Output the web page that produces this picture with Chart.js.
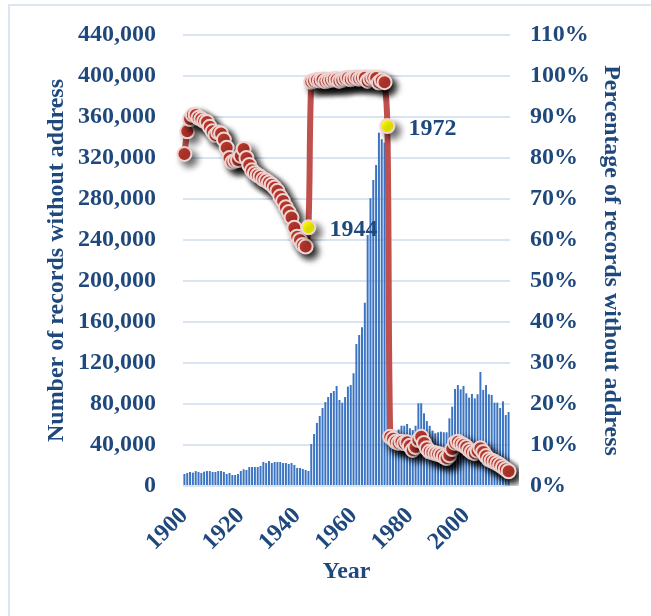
<!DOCTYPE html>
<html>
<head>
<meta charset="utf-8">
<script src="https://cdn.jsdelivr.net/npm/chart.js@4.4.1/dist/chart.umd.min.js"></script>
<style>
  body { margin: 0; background: #fff; }
  #frame { position: absolute; left: 8px; top: 4px; width: 660px; height: 630px; border: 2px solid #dce6f2; box-sizing: border-box; }
  #wrap { position: absolute; left: 0; top: 0; width: 651px; height: 616px; }
</style>
</head>
<body>
<div id="frame"></div>
<div id="wrap"><canvas id="chart" width="651" height="616"></canvas></div>
<script>
const firstYear = 1900;
const lastYear = 2015;
const years = [];
for (let y = firstYear; y <= lastYear; y++) years.push(y);

// number of records without address (thousands)
const recordsK = [
  11.7, 12.7, 13.7, 13.0, 14.6, 13.7, 12.7, 14.0, 14.6, 14.6,
  13.7, 13.7, 14.6, 14.6, 13.7, 11.7, 12.7, 10.7, 10.7, 11.7,
  14.6, 16.3, 15.6, 18.5, 18.5, 18.5, 18.5, 19.5, 23.4, 22.4,
  24.4, 22.4, 23.4, 23.4, 23.4, 22.4, 22.4, 21.5, 22.4, 20.5,
  17.6, 17.6, 16.6, 15.6, 14.6, 41.0, 50.7, 61.5, 68.3, 76.1,
  81.9, 86.8, 90.7, 92.7, 97.6, 83.9, 81.3, 86.8, 97.0, 98.5,
  110.0, 138.5, 147.3, 154.8, 178.8, 244.9, 280.7, 298.5, 313.2, 344.7,
  338.2, 335.0, 330.0, 47.0, 50.0, 53.0, 55.0, 58.8, 58.8, 60.5,
  56.3, 54.6, 58.8, 80.7, 80.7, 70.9, 63.4, 58.8, 54.0, 51.4,
  52.4, 53.0, 52.4, 52.4, 66.0, 77.4, 94.6, 98.5, 94.3, 97.6,
  90.4, 86.2, 89.8, 85.5, 89.5, 111.2, 93.7, 98.5, 89.5, 88.8,
  81.3, 81.3, 76.1, 82.6, 69.3, 72.2
];

// percentage of records without address
const percentNoAddr = [
  81, 86.5, 89.5, 90.5, 90.5, 89.8, 89.5, 89, 88.8, 87.6,
  86.5, 85.6, 86.2, 86, 84.5, 82.5, 80, 79, 79.3, 79.5,
  80.5, 82.2, 80, 78.3, 77, 76.3, 75.8, 75.4, 74.8, 74.5,
  74, 73.5, 72.8, 72, 70.6, 69.5, 68, 66.8, 65.5, 63,
  60.8, 60, 58.8, 58.4, 63.1,
  98.6, 98.8, 99, 98.9, 99.1, 98.7, 98.9, 99, 99.2, 99.1,
  98.8, 99, 99.3, 99.5, 99.2, 99.4, 99.6, 99.3, 99.5, 99.6,
  98.8, 99.3, 99.6, 99.5, 98.4, 98.9, 98.5,
  87.8,
  12.0, 11.5, 10.8, 10.5, 10.8, 10.4, 10.7, 9.8, 8.8, 9.5,
  11.2, 12.0, 10.5, 9.2, 8.4, 8.2, 8.0, 7.8, 7.6, 7.2,
  6.8, 7.5, 9.0, 10.5, 10.8, 10.3, 10.0, 9.5, 8.8, 8.3,
  8.0, 8.6, 9.2, 8.3, 7.3, 6.5, 6.2, 5.9, 5.5, 5.1,
  4.6, 4.1, 3.6
];

const highlightYears = [1944, 1972];
const leftTicksMax = 440000;
const rightTicksMax = 110;

const textBlue = '#1f497d';
const serif = "'Liberation Serif', 'Times New Roman', serif";

// shadow under the round markers
const markerShadow = {
  id: 'markerShadow',
  beforeDatasetDraw(chart, args) {
    if (chart.data.datasets[args.index].shadow) {
      const ctx = chart.ctx;
      ctx.save();
      ctx.shadowColor = 'rgba(0,0,0,0.6)';
      ctx.shadowBlur = 7;
      ctx.shadowOffsetX = 5;
      ctx.shadowOffsetY = 5;
    }
  },
  afterDatasetDraw(chart, args) {
    if (chart.data.datasets[args.index].shadow) chart.ctx.restore();
  }
};

// year labels next to the yellow points
const yearLabels = {
  id: 'yearLabels',
  afterDatasetsDraw(chart) {
    const meta = chart.getDatasetMeta(2);
    const ctx = chart.ctx;
    ctx.save();
    ctx.font = 'bold 24px ' + serif;
    ctx.fillStyle = textBlue;
    ctx.textAlign = 'left';
    ctx.textBaseline = 'middle';
    highlightYears.forEach(y => {
      const i = years.indexOf(y);
      const p = meta.data[i];
      ctx.fillText(String(y), p.x + 21, p.y + 3);
    });
    ctx.restore();
  }
};

// tick padding would otherwise push the plot top down
const noLabelPad = s => { s.paddingTop = 0; s.paddingBottom = 0; };

const ctx = document.getElementById('chart').getContext('2d');
new Chart(ctx, {
  data: {
    labels: years,
    datasets: [
      {
        type: 'bar',
        data: recordsK.map(v => v * 1000),
        yAxisID: 'y',
        backgroundColor: '#3a74c2',
        barPercentage: 0.7,
        categoryPercentage: 1,
        order: 3
      },
      {
        type: 'line',
        data: percentNoAddr,
        yAxisID: 'y1',
        borderColor: '#c0504d',
        borderWidth: 6,
        tension: 0.4,
        pointRadius: 0,
        order: 2
      },
      {
        type: 'line',
        data: percentNoAddr,
        yAxisID: 'y1',
        showLine: false,
        shadow: true,
        pointRadius: 7,
        pointBorderWidth: 2,
        pointBorderColor: '#f0d6d3',
        pointBackgroundColor: c => highlightYears.includes(years[c.dataIndex]) ? '#ffff00' : '#c0392f',
        order: 1
      }
    ]
  },
  options: {
    responsive: false,
    animation: false,
    layout: { padding: { top: 35, left: 0, right: 0, bottom: 0 } },
    plugins: { legend: { display: false }, tooltip: { enabled: false } },
    scales: {
      x: {
        type: 'category',
        offset: true,
        grid: { display: false },
        border: { display: false },
        afterFit: s => { s.height = 130; },
        ticks: {
          autoSkip: false,
          minRotation: 45,
          maxRotation: 45,
          padding: 8,
          color: textBlue,
          font: { family: serif, size: 24, weight: 'bold' },
          callback: (v, i) => years[i] % 20 === 0 ? String(years[i]) : ''
        },
        title: {
          display: true,
          text: 'Year',
          color: textBlue,
          font: { family: serif, size: 24, weight: 'bold' },
          padding: { top: 0, bottom: 30 }
        }
      },
      y: {
        position: 'left',
        min: 0,
        max: leftTicksMax,
        afterFit: s => { s.width = 183; noLabelPad(s); },
        grid: { color: '#dae5f4', lineWidth: 2, drawTicks: false },
        border: { display: false },
        ticks: {
          stepSize: 40000,
          padding: 27,
          color: textBlue,
          font: { family: serif, size: 24, weight: 'bold' },
          callback: v => v.toLocaleString('en-US')
        },
        title: {
          display: true,
          text: 'Number of records without address',
          color: textBlue,
          font: { family: serif, size: 24, weight: 'bold' },
          padding: { top: 42, bottom: 0 }
        }
      },
      y1: {
        position: 'right',
        min: 0,
        max: rightTicksMax,
        afterFit: s => { s.width = 141; noLabelPad(s); },
        grid: { display: false, drawTicks: false },
        border: { display: false },
        ticks: {
          stepSize: 10,
          padding: 20,
          color: textBlue,
          font: { family: serif, size: 24, weight: 'bold' },
          callback: v => v + '%'
        },
        title: {
          display: true,
          text: 'Percentage of records without address',
          color: textBlue,
          font: { family: serif, size: 24, weight: 'bold' },
          padding: { top: 25, bottom: 0 }
        }
      }
    }
  },
  plugins: [markerShadow, yearLabels]
});
</script>
</body>
</html>
